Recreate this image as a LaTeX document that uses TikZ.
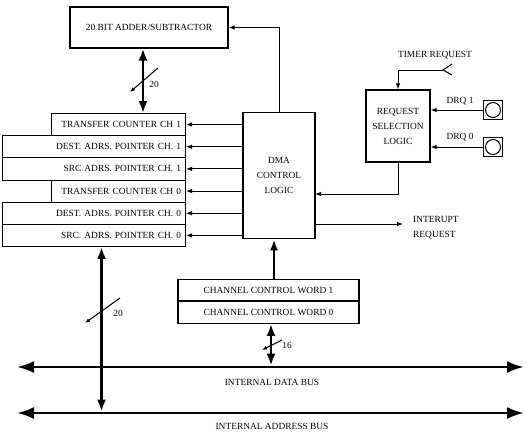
\documentclass[tikz,border=0pt]{standalone}
\usepackage{fontspec}
\setmainfont{Liberation Serif}
\usetikzlibrary{arrows.meta,positioning}
\newcommand{\dmafont}{\fontsize{9.4}{15}\selectfont}
\tikzset{
  blockbox/.style  = {draw, line width=1.1pt, inner sep=0pt, align=center},
  ctlbox/.style    = {draw, line width=1.8pt, inner sep=0pt, align=center},
  regbox/.style    = {draw, line width=0.9pt, anchor=north east, minimum height=22.2pt,
                      inner sep=4.5pt, align=right},
  pinbox/.style    = {draw, line width=1pt, minimum size=19pt, inner sep=0pt},
  pinhole/.style   = {draw, circle, line width=1pt, minimum size=15pt, inner sep=0pt},
  sig/.style       = {-{Latex[length=6pt,width=4.5pt]}, line width=1pt},
  sigup/.style     = {-{Latex[length=11pt,width=8pt]}, line width=2.6pt},
  vbus/.style      = {{Latex[length=12pt,width=9pt]}-{Latex[length=12pt,width=9pt]},
                      line width=2.4pt},
  hbus/.style      = {{Latex[length=17pt,width=12pt]}-{Latex[length=17pt,width=12pt]},
                      line width=2.6pt},
  slashmark/.style = {-{Latex[length=5pt,width=4pt]}, line width=1pt},
  lbl/.style       = {inner sep=0pt, align=left},
}
\newcommand{\regrow}[4]{%
  \node[regbox, text width=#2] (#1) at (186,#3) {#4};
}

\begin{document}
\begin{tikzpicture}[x=1pt, y=-1pt, font=\dmafont]
  \useasboundingbox (0,0) rectangle (527,431);

  \node[blockbox, minimum width=158pt, minimum height=41pt] (adder) at (149,27.5)
    {20 BIT ADDER/SUBTRACTOR};
  \node[ctlbox, minimum width=72pt, minimum height=126pt] (dma) at (279,175.5)
    {DMA\\CONTROL\\LOGIC};
  \node[blockbox, minimum width=64pt, minimum height=72pt] (reqsel) at (398,126)
    {REQUEST\\SELECTION\\LOGIC};

  \regrow{tc1} {125pt}{113}  {TRANSFER COUNTER CH 1}
  \regrow{dst1}{174pt}{135.2}{DEST. ADRS. POINTER CH. 1}
  \regrow{src1}{174pt}{157.3}{SRC ADRS. POINTER CH. 1}
  \regrow{tc0} {125pt}{179.5}{TRANSFER COUNTER CH 0}
  \regrow{dst0}{174pt}{201.7}{DEST. ADRS. POINTER CH. 0}
  \regrow{src0}{174pt}{223.8}{SRC. ADRS. POINTER CH. 0}

  \node[blockbox, minimum width=181pt, minimum height=21.5pt] (ccw1) at (268.5,290)
    {CHANNEL CONTROL WORD 1};
  \node[blockbox, minimum width=181pt, minimum height=21.5pt, below=0pt of ccw1] (ccw0)
    {CHANNEL CONTROL WORD 0};

  \node[pinbox] (drq1) at (493,110) {};
  \node[pinhole] (drq1h) at (drq1) {};
  \node[pinbox] (drq0) at (493,147) {};
  \node[pinhole] (drq0h) at (drq0) {};
  \node[lbl] (drq1lbl) at (460,101) {DRQ 1};
  \node[lbl] (drq0lbl) at (460,137) {DRQ 0};
  \node[lbl] (tmrlbl) at (435,55) {TIMER REQUEST};
  \node[lbl, anchor=west] (irqlbl) at (413,228) {INTERUPT\\REQUEST};

  \coordinate (tmr) at (443,70);
  \coordinate (rq) at (315,194);
  \coordinate (irq) at (403,224);
  \coordinate (dbl) at (17,367);
  \coordinate (dbr) at (524,367);
  \coordinate (abl) at (17,413);
  \coordinate (abr) at (524,413);

  \draw[sig] (dma.north) |- (adder.east);
  \foreach \r in {tc1,dst1,src1,tc0,dst0,src0}
    \draw[sig] (dma.west |- \r.east) -- (\r.east);
  \draw[sig] (reqsel.south) |- (rq);
  \draw[sig] (dma.east |- irq) -- (irq);
  \draw[sig] (tmr) -| (reqsel.north);
  \draw[line width=1pt] (452,64) -- (tmr) -- (452,75);
  \draw[sig] (drq1.west) -- (reqsel.east |- drq1);
  \draw[sig] (drq0.west) -- (reqsel.east |- drq0);

  \draw[vbus] ([xshift=-6pt]adder.south) -- ([xshift=-6pt]adder.south |- tc1.north);
  \draw[slashmark] (158,68) -- (130,92);
  \node[lbl] (adrw) at (154,84) {20};

  \draw[sigup] ([xshift=5.5pt]ccw1.north) -- ([xshift=5.5pt]ccw1.north |- dma.south);

  \draw[hbus] (dbl) -- (dbr);
  \draw[hbus] (abl) -- (abr);
  \node[lbl] (dbuslbl) at (272,382) {INTERNAL DATA BUS};
  \node[lbl] (abuslbl) at (272,426) {INTERNAL ADDRESS BUS};

  \draw[vbus, shorten >=1.3pt] ([xshift=2.5pt]ccw0.south) -- ([xshift=2.5pt]ccw0.south |- dbl);
  \draw[slashmark] (282,340) -- (262,350);
  \node[lbl] (ccww) at (287,345) {16};

  \draw[vbus, shorten >=1.3pt] ([xshift=7.5pt]src0.south) -- ([xshift=7.5pt]src0.south |- abl);
  \draw[slashmark] (120,298) -- (85,323);
  \node[lbl] (adw) at (118,313) {20};
\end{tikzpicture}
\end{document}
